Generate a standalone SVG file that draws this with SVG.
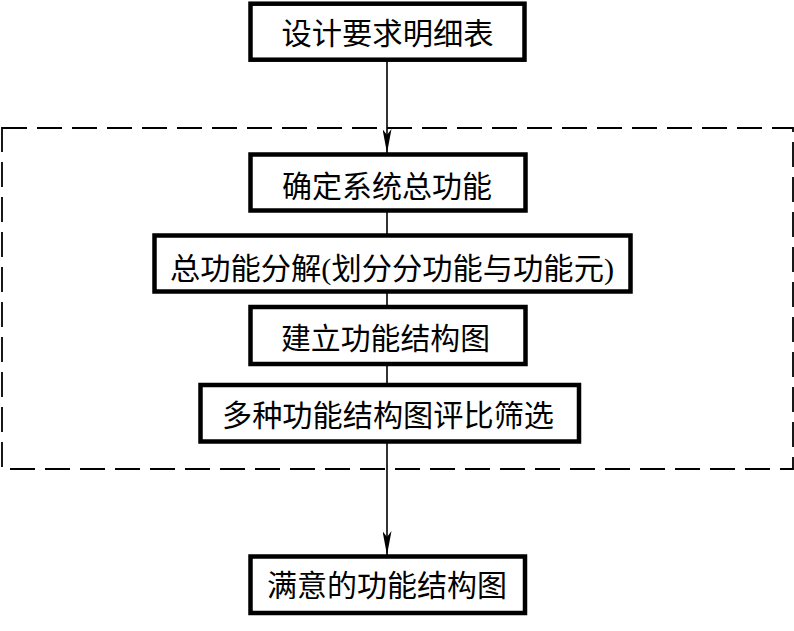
<svg xmlns="http://www.w3.org/2000/svg" width="794" height="631" viewBox="0 0 794 631">
<style>
.box{fill:#fff;stroke:#000;stroke-width:4.5}
.t{font-family:"Liberation Serif","Noto Sans CJK SC",serif;font-size:30px;fill:#000;text-anchor:middle}
.c{stroke:#000;stroke-width:1.6;fill:none}
.frame{fill:none;stroke:#000;stroke-width:1.8;stroke-dasharray:25 10}
</style>
<defs>
<marker id="ah" viewBox="0 0 24 9" refX="24" refY="4.5" markerWidth="24" markerHeight="9" markerUnits="userSpaceOnUse" orient="auto">
<path d="M0,0 L24,4.5 L0,9 L6,4.5 Z" fill="#000"/>
</marker>
</defs>
<rect class="frame" x="2" y="128" width="791" height="341"/>
<g id="connectors">
<line class="c" x1="387" y1="60" x2="387" y2="153" marker-end="url(#ah)"/>
<line class="c" x1="387" y1="210" x2="387" y2="236"/>
<line class="c" x1="387" y1="291" x2="387" y2="307"/>
<line class="c" x1="387" y1="364" x2="387" y2="385"/>
<line class="c" x1="387" y1="441" x2="387" y2="555" marker-end="url(#ah)"/>
</g>
<g id="n1">
<rect class="box" x="250.5" y="3.7" width="274" height="56"/>
<text class="t" x="387.5" y="43.5" textLength="212" lengthAdjust="spacingAndGlyphs">设计要求明细表</text>
</g>
<g id="n2">
<rect class="box" x="250.5" y="154.5" width="275" height="56"/>
<text class="t" x="387" y="196.5" textLength="210" lengthAdjust="spacingAndGlyphs">确定系统总功能</text>
</g>
<g id="n3">
<rect class="box" x="154.5" y="235.5" width="476" height="56"/>
<text class="t" x="392" y="278.5" textLength="444" lengthAdjust="spacingAndGlyphs">总功能分解(划分分功能与功能元)</text>
</g>
<g id="n4">
<rect class="box" x="250.5" y="307" width="275" height="57"/>
<text class="t" x="385.5" y="348.5" textLength="209" lengthAdjust="spacingAndGlyphs">建立功能结构图</text>
</g>
<g id="n5">
<rect class="box" x="200.5" y="385" width="378.5" height="56.5"/>
<text class="t" x="388" y="425.5" textLength="332" lengthAdjust="spacingAndGlyphs">多种功能结构图评比筛选</text>
</g>
<g id="n6">
<rect class="box" x="250.5" y="556.5" width="274.5" height="56.5"/>
<text class="t" x="387" y="595.5" textLength="240" lengthAdjust="spacingAndGlyphs">满意的功能结构图</text>
</g>
</svg>
